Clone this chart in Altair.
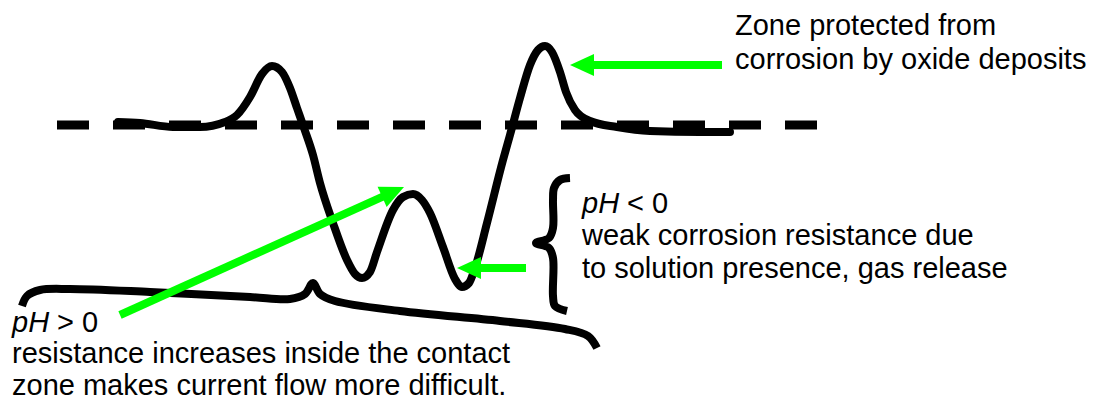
import math
import altair as alt
import pandas as pd

# ---- data: diagram geometry (page pixel units) ----
curve_x = [118, 140, 173, 200, 225, 237, 250, 262, 272, 282, 290, 297, 304, 313, 320, 333, 347, 355, 362,
           370, 377, 393, 403, 413, 422, 430, 443, 455, 462, 469, 475, 487, 503, 510, 520, 530, 538, 545,
           552, 560, 566, 575, 590, 617, 650, 700, 730]
curve_y = [122, 123, 127, 127, 122, 115, 97, 74, 66, 72, 88, 108, 128, 155, 183, 223, 260, 274, 278,
           272, 252, 210, 197, 194, 200, 213, 247, 279, 287, 283, 268, 223, 160, 135, 98, 65, 50, 46,
           52, 72, 92, 110, 121, 127, 131, 132, 132]

brace_bottom_x = [22, 27, 40, 70, 150, 250, 290, 305, 313, 320, 335, 400, 500, 565, 588, 597]
brace_bottom_y = [306, 296, 290, 289, 292, 297, 299, 294, 283, 294, 301, 311, 321, 329, 336, 348]

brace_right_x = [570, 560, 554, 553, 553, 549, 536, 549, 553, 553, 555, 567]
brace_right_y = [178, 180, 188, 200, 228, 238, 243, 248, 258, 296, 306, 311]

reference_x = [57, 817]
reference_y = [125, 125]

arrow_tip_x = [570, 457, 404]
arrow_tip_y = [65, 268, 187]
arrow_tail_x = [722, 526, 120]
arrow_tail_y = [65, 268, 315]

label_italic = ["pH", "pH"]
label_rest = ["< 0", "> 0"]
label_lines = [
    "Zone protected from",
    "corrosion by oxide deposits",
    "weak corrosion resistance due",
    "to solution presence, gas release",
    "resistance increases inside the contact",
    "zone makes current flow more difficult.",
]

# ---- layout (positions of text blocks) ----
lines_pos = [(735, 35), (735, 69), (582, 245), (582, 278), (12, 363), (12, 395)]
ph_pos = [(582, 213), (12, 332)]
PH_WIDTH = 45
FONT = "Liberation Sans"
FS = 29
GREEN = "#00ff00"
HEAD_LEN = 24
W, H = 1080, 393

xs = alt.Scale(domain=[8, 8 + W], nice=False, zero=False)
ys = alt.Scale(domain=[8, 8 + H], nice=False, zero=False, reverse=True)

def X(f):
    return alt.X(f, type="quantitative", scale=xs, axis=None)

def Y(f):
    return alt.Y(f, type="quantitative", scale=ys, axis=None)

curve_df = pd.DataFrame({"x": curve_x, "y": curve_y})
brace_df = pd.concat([
    pd.DataFrame({"x": brace_bottom_x, "y": brace_bottom_y, "g": "bottom",
                  "o": list(range(len(brace_bottom_x)))}),
    pd.DataFrame({"x": brace_right_x, "y": brace_right_y, "g": "right",
                  "o": list(range(len(brace_right_x)))}),
])
ref_df = pd.DataFrame({"x": [reference_x[0]], "x2": [reference_x[1]], "y": [reference_y[0]]})

rows = []
for tx, ty, sx, sy in zip(arrow_tip_x, arrow_tip_y, arrow_tail_x, arrow_tail_y):
    dx, dy = tx - sx, ty - sy
    n = math.hypot(dx, dy)
    ux, uy = dx / n, dy / n
    ang = math.degrees(math.atan2(ux, -uy)) % 360
    bx, by = tx - ux * (HEAD_LEN - 2), ty - uy * (HEAD_LEN - 2)
    rows.append({"tx": tx, "ty": ty, "sx": sx, "sy": sy, "bx": bx, "by": by, "ang": ang})
arrow_df = pd.DataFrame(rows)

text_df = pd.DataFrame({"x": [p[0] for p in lines_pos], "y": [p[1] for p in lines_pos], "t": label_lines})
ph_df = pd.DataFrame({"x": [p[0] for p in ph_pos], "y": [p[1] for p in ph_pos], "t": label_italic})
rest_df = pd.DataFrame({"x": [p[0] + PH_WIDTH for p in ph_pos], "y": [p[1] for p in ph_pos], "t": label_rest})

dashed = alt.Chart(ref_df).mark_rule(
    color="black", strokeWidth=9, strokeDash=[32, 24], strokeCap="butt"
).encode(x=X("x"), x2="x2", y=Y("y"))

curve = alt.Chart(curve_df).mark_line(
    color="black", strokeWidth=8, interpolate="monotone", strokeCap="round", strokeJoin="round"
).encode(x=X("x"), y=Y("y"))

braces = alt.Chart(brace_df).mark_line(
    color="black", strokeWidth=8, interpolate="catmull-rom", strokeCap="butt", strokeJoin="round"
).encode(x=X("x"), y=Y("y"), detail="g:N", order="o:Q")

shafts = alt.Chart(arrow_df).mark_rule(
    color=GREEN, strokeWidth=8, strokeCap="butt"
).encode(x=X("sx"), y=Y("sy"), x2="bx", y2="by")

heads = alt.Chart(arrow_df).mark_point(
    shape="M0,0L0.92,2L-0.92,2Z", filled=True, opacity=1, color=GREEN, size=HEAD_LEN * HEAD_LEN, strokeWidth=0
).encode(x=X("tx"), y=Y("ty"), angle=alt.Angle("ang:Q", scale=None))

txt = alt.Chart(text_df).mark_text(
    align="left", baseline="alphabetic", font=FONT, fontSize=FS, color="black"
).encode(x=X("x"), y=Y("y"), text="t:N")

ph = alt.Chart(ph_df).mark_text(
    align="left", baseline="alphabetic", font=FONT, fontSize=FS, fontStyle="italic", color="black"
).encode(x=X("x"), y=Y("y"), text="t:N")

rest = alt.Chart(rest_df).mark_text(
    align="left", baseline="alphabetic", font=FONT, fontSize=FS, color="black"
).encode(x=X("x"), y=Y("y"), text="t:N")

chart = alt.layer(dashed, curve, braces, shafts, heads, txt, ph, rest).properties(
    width=W, height=H, padding=0, autosize=alt.AutoSizeParams(type="none")
).configure_view(stroke=None)

chart.save("out.html", embed_options={"renderer": "svg", "actions": False})
